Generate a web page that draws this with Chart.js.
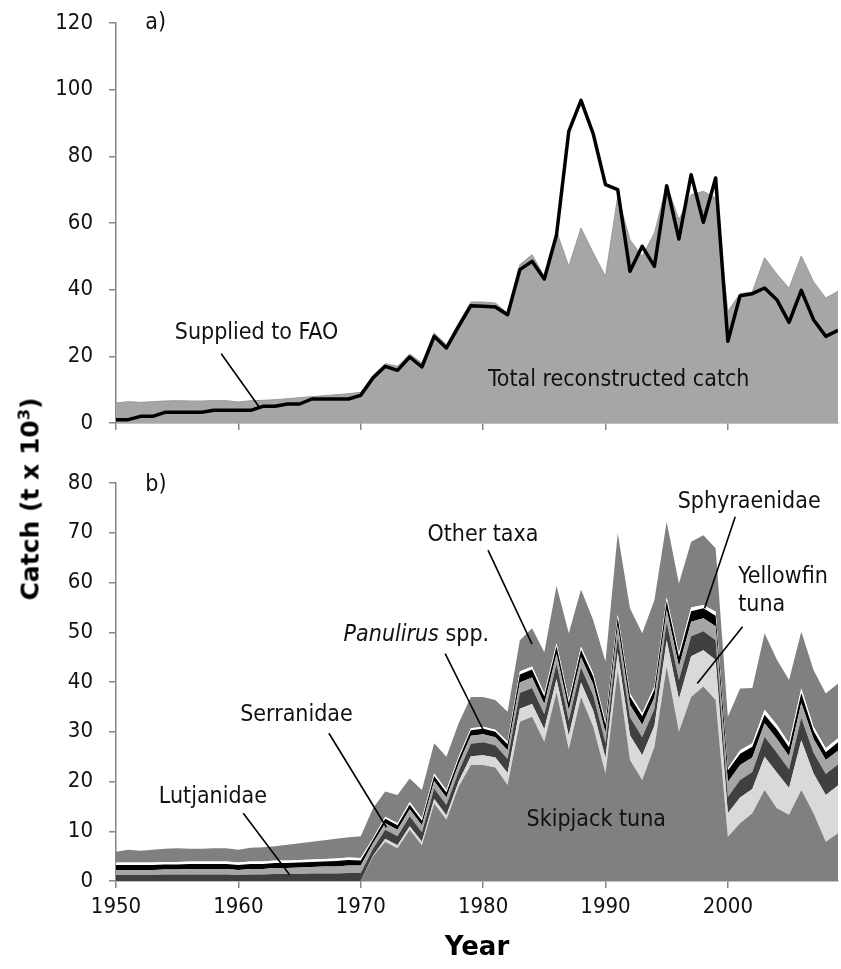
<!DOCTYPE html>
<html>
<head>
<meta charset="utf-8">
<script src="https://cdn.jsdelivr.net/npm/chart.js@4.4.0/dist/chart.umd.min.js"></script>
<style>
  html, body { margin: 0; padding: 0; background: #fff; }
  #wrap { position: relative; width: 841px; height: 969px; overflow: hidden; }
  canvas { position: absolute; left: 0; }
  #chartA { top: 0; }
  #chartB { top: 445px; }
  #ytitle {
    position: absolute; left: 30px; top: 499px;
    transform: translate(-50%, -50%) rotate(-90deg);
    font: bold 25px 'DejaVu Sans', sans-serif; white-space: nowrap; color: #000;
  }
  #ytitle sup { font-size: 0.65em; vertical-align: 0.55em; line-height: 0; }
</style>
</head>
<body>
<div id="wrap">
  <canvas id="chartA" width="841" height="445"></canvas>
  <canvas id="chartB" width="841" height="524"></canvas>
  <div id="ytitle">Catch (t x 10<sup>3</sup>)</div>
</div>
<script>
// --- Data (catch in t x 10^3) ---
const years = [
  1950, 1951, 1952, 1953, 1954, 1955, 1956, 1957, 1958, 1959,
  1960, 1961, 1962, 1963, 1964, 1965, 1966, 1967, 1968, 1969,
  1970, 1971, 1972, 1973, 1974, 1975, 1976, 1977, 1978, 1979,
  1980, 1981, 1982, 1983, 1984, 1985, 1986, 1987, 1988, 1989,
  1990, 1991, 1992, 1993, 1994, 1995, 1996, 1997, 1998, 1999,
  2000, 2001, 2002, 2003, 2004, 2005, 2006, 2007, 2008, 2009
];

// panel a
const totalCatch = [
  6.0, 6.4, 6.2, 6.4, 6.6, 6.7, 6.6, 6.6, 6.7, 6.7,
  6.3, 6.7, 6.8, 7.0, 7.3, 7.6, 7.9, 8.2, 8.5, 8.8,
  9.2, 14.3, 17.8, 17.0, 20.7, 18.0, 27.0, 23.5, 30.0, 36.3,
  36.3, 36.0, 33.0, 47.5, 50.5, 44.0, 57.5, 47.0, 58.5, 51.0,
  44.0, 68.0, 55.0, 50.0, 57.0, 71.5, 61.0, 68.5, 69.5, 67.5,
  33.5, 38.8, 39.3, 49.6, 44.7, 40.4, 50.1, 42.4, 37.5, 39.5
];
const suppliedFAO = [
  1.0, 1.0, 2.0, 2.0, 3.2, 3.2, 3.2, 3.2, 3.8, 3.8,
  3.8, 3.8, 5.0, 5.0, 5.7, 5.7, 7.2, 7.2, 7.2, 7.2,
  8.3, 13.5, 17.0, 15.8, 19.8, 16.8, 26.0, 22.5, 29.0, 35.2,
  35.0, 34.8, 32.5, 46.0, 48.5, 43.2, 56.5, 87.5, 96.8, 86.7,
  71.5, 70.0, 45.5, 53.0, 47.0, 71.2, 55.2, 74.5, 60.2, 73.5,
  24.5, 38.2, 38.8, 40.5, 37.0, 30.2, 39.8, 31.0, 26.0, 27.8
];

// panel b, stacked bottom to top
const skipjack = [
  0, 0, 0, 0, 0, 0, 0, 0, 0, 0,
  0, 0, 0, 0, 0, 0, 0, 0, 0, 0,
  0, 4.9, 7.9, 6.6, 10.3, 7.2, 15.6, 12.3, 19.0, 23.3,
  23.3, 22.8, 19.3, 32.0, 33.0, 28.0, 38.0, 26.5, 37.0, 31.0,
  21.6, 42.4, 24.3, 20.3, 27.0, 43.1, 30.0, 37.0, 39.1, 36.4,
  8.9, 11.6, 13.6, 18.3, 14.6, 13.3, 18.3, 13.6, 7.9, 9.6
];
const yellowfin = [
  0, 0, 0, 0, 0, 0, 0, 0, 0, 0,
  0, 0, 0, 0, 0, 0, 0, 0, 0, 0,
  0, 0.2, 0.6, 0.6, 0.7, 0.7, 0.9, 0.9, 1.0, 1.8,
  2.0, 2.0, 2.4, 2.6, 2.6, 2.5, 2.6, 2.7, 2.9, 3.2,
  3.1, 3.6, 5.0, 5.0, 4.2, 5.3, 6.6, 8.2, 7.3, 8.0,
  4.7, 5.2, 4.9, 6.7, 7.2, 5.4, 10.0, 8.0, 9.4, 9.6
];
const lutjanidae = [
  1.2, 1.2, 1.2, 1.2, 1.3, 1.3, 1.3, 1.3, 1.3, 1.3,
  1.2, 1.3, 1.3, 1.4, 1.4, 1.4, 1.5, 1.5, 1.5, 1.6,
  1.6, 1.4, 1.8, 1.8, 2.0, 1.9, 2.1, 2.1, 2.0, 2.5,
  2.6, 2.5, 2.8, 3.2, 3.2, 3.0, 3.0, 3.0, 3.0, 3.1,
  3.0, 3.1, 3.6, 3.6, 3.4, 3.6, 3.8, 4.0, 3.8, 4.0,
  3.3, 3.5, 3.4, 4.0, 4.0, 3.7, 4.5, 4.2, 4.2, 4.2
];
const serranidae = [
  1.0, 1.0, 1.0, 1.0, 1.0, 1.0, 1.1, 1.1, 1.1, 1.1,
  1.0, 1.1, 1.1, 1.2, 1.2, 1.3, 1.3, 1.4, 1.4, 1.5,
  1.5, 1.1, 1.3, 1.3, 1.4, 1.4, 1.5, 1.5, 1.5, 1.6,
  1.6, 1.6, 1.8, 2.1, 2.1, 2.1, 2.1, 2.1, 2.1, 2.2,
  2.1, 2.2, 2.5, 2.5, 2.3, 2.5, 2.7, 2.9, 2.6, 2.8,
  3.0, 3.0, 2.9, 2.7, 2.8, 2.7, 3.0, 2.8, 2.8, 2.8
];
const panulirus = [
  1.0, 1.0, 1.0, 1.0, 1.0, 1.0, 1.0, 1.0, 1.0, 1.0,
  1.0, 1.0, 1.0, 1.0, 1.0, 1.0, 1.0, 1.0, 1.1, 1.1,
  1.0, 0.7, 0.9, 0.9, 1.0, 0.9, 1.0, 1.0, 1.0, 1.1,
  1.1, 1.1, 1.2, 1.6, 1.6, 1.5, 1.5, 1.5, 1.5, 1.6,
  1.6, 1.6, 1.7, 1.7, 1.6, 1.8, 2.0, 2.1, 2.0, 2.1,
  2.3, 2.3, 2.2, 1.7, 1.9, 1.8, 2.0, 1.6, 1.6, 1.7
];
const sphyraenidae = [
  0.5, 0.5, 0.5, 0.5, 0.5, 0.5, 0.5, 0.5, 0.5, 0.5,
  0.5, 0.5, 0.5, 0.5, 0.5, 0.5, 0.5, 0.5, 0.5, 0.5,
  0.5, 0.3, 0.4, 0.4, 0.5, 0.5, 0.5, 0.5, 0.5, 0.4,
  0.4, 0.4, 0.5, 0.6, 0.6, 0.6, 0.6, 0.6, 0.6, 0.6,
  0.6, 0.6, 0.6, 0.6, 0.6, 0.7, 0.7, 0.8, 0.7, 0.8,
  0.4, 0.7, 0.7, 1.0, 0.9, 0.8, 0.9, 0.8, 0.8, 0.8
];
const otherTaxa = [
  2.2, 2.6, 2.4, 2.6, 2.7, 2.8, 2.6, 2.6, 2.7, 2.7,
  2.6, 2.8, 2.9, 2.9, 3.2, 3.4, 3.6, 3.8, 4.0, 4.1,
  4.4, 6.0, 5.1, 5.7, 4.7, 5.7, 6.1, 6.7, 6.7, 6.3,
  6.0, 6.0, 6.0, 6.3, 7.7, 8.3, 11.5, 13.4, 11.5, 10.7,
  12.1, 16.4, 17.1, 16.1, 17.4, 15.2, 14.0, 13.2, 14.0, 12.8,
  10.4, 12.4, 11.1, 15.4, 13.1, 12.7, 11.4, 11.4, 11.0, 11.0
];

// --- Look ---
const FONT = "'DejaVu Sans Condensed', 'DejaVu Sans', sans-serif";
const AXIS = '#868686';
const pts = arr => arr.map((v, i) => ({ x: years[i], y: v }));

// text labels and leader lines, placed in data units
const notesPlugin = {
    id: 'notes',
    afterDatasetsDraw(chart, args, opts) {
        const { ctx, scales: { x, y } } = chart;
        ctx.save();
        ctx.strokeStyle = '#000';
        ctx.lineWidth = 1.6;
        (opts.lines || []).forEach(l => {
            ctx.beginPath();
            ctx.moveTo(x.getPixelForValue(l[0]), y.getPixelForValue(l[1]));
            ctx.lineTo(x.getPixelForValue(l[2]), y.getPixelForValue(l[3]));
            ctx.stroke();
        });
        ctx.fillStyle = '#111';
        ctx.textBaseline = 'middle';
        ctx.textAlign = 'left';
        (opts.texts || []).forEach(t => {
            let px = x.getPixelForValue(t.x);
            const py = y.getPixelForValue(t.y);
            t.parts.forEach(p => {
                ctx.font = (p.italic ? 'italic ' : '') + '23px ' + FONT;
                ctx.fillText(p.s, px, py);
                px += ctx.measureText(p.s).width;
            });
        });
        ctx.restore();
    }
};

function xScale(showLabels) {
    return {
        type: 'linear', min: 1950, max: 2009,
        ticks: {
            display: showLabels, stepSize: 10, includeBounds: false,
            color: '#111', font: { family: FONT, size: 22 }, padding: 6,
            callback: v => String(v)
        },
        grid: { drawOnChartArea: false, tickLength: 7, color: AXIS, lineWidth: 1.5 },
        border: { color: AXIS, width: 1.5 }
    };
}

function yScale(max, step) {
    return {
        min: 0, max: max,
        ticks: { stepSize: step, color: '#111', font: { family: FONT, size: 22 }, padding: 16 },
        grid: { drawOnChartArea: false, tickLength: 7, color: AXIS, lineWidth: 1.5 },
        border: { color: AXIS, width: 1.5 },
        // fixed axis width; labels may overflow into the outer margins
        afterFit: s => { s.width = 116; s.paddingTop = 0; s.paddingBottom = 0; }
    };
}

const common = {
    responsive: false,
    animation: false,
    events: [],
    elements: { point: { radius: 0 }, line: { tension: 0 } }
};

// --- Panel a ---
const xA = xScale(false);
xA.afterFit = s => { s.height = 22; };
new Chart(document.getElementById('chartA'), {
    type: 'line',
    data: {
        datasets: [
            { label: 'Supplied to FAO', data: pts(suppliedFAO), borderColor: '#000', borderWidth: 3.5,
              borderJoinStyle: 'round', fill: false },
            { label: 'Total reconstructed catch', data: pts(totalCatch), borderColor: '#999',
              borderWidth: 1, backgroundColor: '#a6a6a6', fill: 'origin' }
        ]
    },
    options: {
        ...common,
        layout: { padding: { top: 23, right: 3, left: 0, bottom: 0 } },
        scales: { x: xA, y: yScale(120, 20) },
        plugins: {
            legend: { display: false }, tooltip: { enabled: false },
            notes: {
                texts: [
                    { x: 1952.4, y: 120, parts: [{ s: 'a)' }] },
                    { x: 1954.8, y: 27.1, parts: [{ s: 'Supplied to FAO' }] },
                    { x: 1980.4, y: 13.0, parts: [{ s: 'Total reconstructed catch' }] }
                ],
                lines: [[1958.6, 20.8, 1961.7, 4.8]]
            }
        }
    },
    plugins: [notesPlugin]
});

// --- Panel b ---
const layers = [
    { label: 'Skipjack tuna', data: skipjack, color: '#808080' },
    { label: 'Yellowfin tuna', data: yellowfin, color: '#d9d9d9' },
    { label: 'Lutjanidae', data: lutjanidae, color: '#404040' },
    { label: 'Serranidae', data: serranidae, color: '#a6a6a6' },
    { label: 'Panulirus spp.', data: panulirus, color: '#000000' },
    { label: 'Sphyraenidae', data: sphyraenidae, color: '#ffffff' },
    { label: 'Other taxa', data: otherTaxa, color: '#808080' }
];

const xB = xScale(true);
xB.afterFit = s => { s.height = 88; };
xB.title = { display: true, text: 'Year', color: '#000',
             font: { family: "'DejaVu Sans', sans-serif", size: 26, weight: 'bold' },
             padding: { top: 0, bottom: 5 } };
const yB = yScale(80, 10);
yB.stacked = true;

new Chart(document.getElementById('chartB'), {
    type: 'line',
    data: {
        datasets: layers.map((l, i) => ({
            label: l.label, data: pts(l.data),
            backgroundColor: l.color, borderWidth: 0, borderColor: 'transparent',
            fill: i === 0 ? 'origin' : '-1'
        }))
    },
    options: {
        ...common,
        layout: { padding: { top: 38, right: 3, left: 0, bottom: 0 } },
        scales: { x: xB, y: yB },
        plugins: {
            legend: { display: false }, tooltip: { enabled: false },
            notes: {
                texts: [
                    { x: 1952.4, y: 79.6, parts: [{ s: 'b)' }] },
                    { x: 1975.45, y: 69.5, parts: [{ s: 'Other taxa' }] },
                    { x: 1968.6, y: 49.4, parts: [{ s: 'Panulirus', italic: true }, { s: ' spp.' }] },
                    { x: 1960.15, y: 33.4, parts: [{ s: 'Serranidae' }] },
                    { x: 1953.5, y: 16.8, parts: [{ s: 'Lutjanidae' }] },
                    { x: 1983.55, y: 12.3, parts: [{ s: 'Skipjack tuna' }] },
                    { x: 1995.9, y: 76.2, parts: [{ s: 'Sphyraenidae' }] },
                    { x: 2000.85, y: 61.0, parts: [{ s: 'Yellowfin' }] },
                    { x: 2000.85, y: 55.5, parts: [{ s: 'tuna' }] }
                ],
                lines: [
                    [1980.4, 66.5, 1984.0, 47.6],
                    [1976.9, 45.7, 1980.1, 29.9],
                    [1967.4, 29.7, 1972.1, 10.8],
                    [1960.4, 13.6, 1964.2, 1.2],
                    [2000.6, 73.2, 1998.1, 54.8],
                    [2001.2, 51.1, 1997.5, 39.7]
                ]
            }
        }
    },
    plugins: [notesPlugin]
});
</script>
</body>
</html>
